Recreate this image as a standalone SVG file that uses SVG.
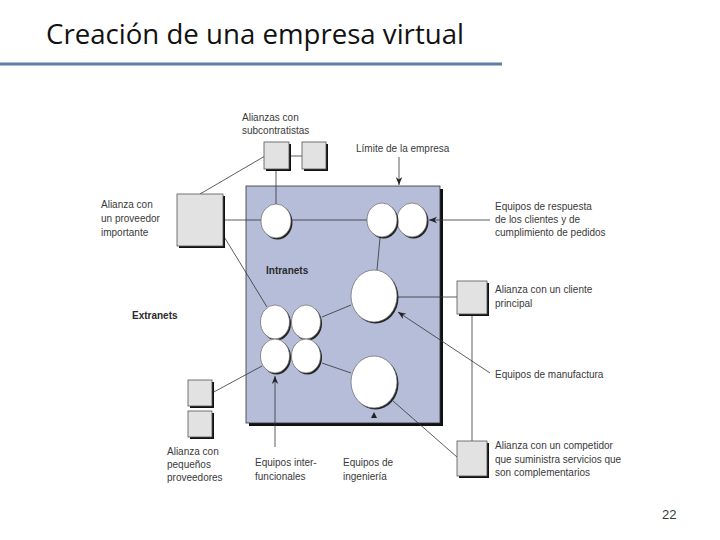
<svg xmlns="http://www.w3.org/2000/svg" width="720" height="540" viewBox="0 0 720 540">
<style>
.t{font-family:"Liberation Sans",Arial,sans-serif;font-size:10px;fill:#3a3a3a}
.b{font-weight:bold;fill:#2a2a2a}
.box{fill:#e2e2e2;stroke:#555;stroke-width:0.8}
.sh{fill:#111}
.c{fill:#fff;stroke:#666;stroke-width:0.7}
.cs{fill:#222}
.ln{stroke:#333;stroke-width:0.8;fill:none}
</style>
<defs>
<marker id="ah" viewBox="0 0 10 10" refX="10" refY="5" markerWidth="8" markerHeight="8" markerUnits="userSpaceOnUse" orient="auto">
<path d="M0,1 L10,5 L0,9 L3,5 Z" fill="#222"/>
</marker>
</defs>
<rect width="720" height="540" fill="#fff"/>
<g id="title">
<text x="46" y="44" font-family="'Open Sans','Noto Sans',sans-serif" font-size="27" fill="#111" textLength="418" lengthAdjust="spacingAndGlyphs">Creación de una empresa virtual</text>
<line x1="0" y1="64" x2="502" y2="64" stroke="#5b80a5" stroke-width="3"/>
</g>
<g id="empresa">
<rect x="249" y="189" width="194" height="237" class="sh"/>
<rect x="246" y="186" width="194" height="237" fill="#b5bdd9" stroke="#333" stroke-width="0.8"/>
<text x="266" y="274" class="t b">Intranets</text>
</g>
<g id="connectors">
<line x1="276" y1="169" x2="276" y2="204" class="ln" stroke-width="1.1"/>
<line x1="289" y1="156" x2="302" y2="156" class="ln" stroke="#777"/>
<line x1="265" y1="156" x2="200" y2="194" class="ln"/>
<line x1="223" y1="220" x2="367" y2="220" class="ln"/>
<line x1="223" y1="235" x2="267" y2="307" class="ln"/>
<line x1="380" y1="238" x2="377" y2="270" class="ln"/>
<line x1="397" y1="297" x2="457" y2="297" class="ln"/>
<line x1="322" y1="317" x2="351" y2="305" class="ln"/>
<line x1="322" y1="363" x2="351" y2="373" class="ln"/>
<line x1="212" y1="393" x2="262" y2="366" class="ln"/>
<line x1="472" y1="314" x2="472" y2="441" class="ln" stroke-width="1.1"/>
<line x1="393" y1="401" x2="457" y2="457" class="ln"/>
<line x1="490" y1="373" x2="398" y2="312" class="ln" marker-end="url(#ah)"/>
<line x1="490" y1="220" x2="429" y2="220" class="ln" marker-end="url(#ah)"/>
<line x1="399" y1="157" x2="399" y2="185" class="ln" stroke-width="1.1" marker-end="url(#ah)"/>
<line x1="275" y1="447" x2="275" y2="376" class="ln" stroke-width="1.1" marker-end="url(#ah)"/>
<path d="M371,418 L374,412 L377,418 Z" fill="#222"/>
</g>
<g id="subcontratistas">
<rect x="266" y="144" width="25" height="27" class="sh"/>
<rect x="264" y="142" width="25" height="27" class="box"/>
<rect x="304" y="144" width="24" height="27" class="sh"/>
<rect x="302" y="142" width="24" height="27" class="box"/>
<text x="242" y="121" class="t">Alianzas con</text>
<text x="242" y="134" class="t">subcontratistas</text>
</g>
<g id="proveedor">
<rect x="179" y="196" width="46" height="52" class="sh"/>
<rect x="177" y="194" width="46" height="52" class="box"/>
<text x="101" y="208" class="t">Alianza con</text>
<text x="101" y="222" class="t">un proveedor</text>
<text x="101" y="236" class="t">importante</text>
</g>
<g id="limite">
<text x="356" y="152" class="t">Límite de la empresa</text>
</g>
<g id="circulo1">
<ellipse cx="277.5" cy="222.5" rx="15" ry="17" class="cs"/>
<ellipse cx="276" cy="221" rx="15" ry="17" class="c"/>
</g>
<g id="respuesta">
<ellipse cx="413.5" cy="221.5" rx="15" ry="17" class="cs"/>
<ellipse cx="412" cy="220" rx="15" ry="17" class="c"/>
<ellipse cx="383.5" cy="221.5" rx="15" ry="17" class="cs"/>
<ellipse cx="382" cy="220" rx="15" ry="17" class="c"/>
<text x="495" y="210" class="t">Equipos de respuesta</text>
<text x="495" y="223" class="t">de los clientes y de</text>
<text x="495" y="236" class="t">cumplimiento de pedidos</text>
</g>
<g id="manufactura">
<ellipse cx="375.5" cy="297.5" rx="23" ry="26" class="cs"/>
<ellipse cx="374" cy="296" rx="23" ry="26" class="c"/>
<text x="495" y="378" class="t">Equipos de manufactura</text>
</g>
<g id="interfuncionales">
<ellipse cx="276.5" cy="323.5" rx="14.5" ry="17" class="cs"/>
<ellipse cx="275" cy="322" rx="14.5" ry="17" class="c"/>
<ellipse cx="307.5" cy="323.5" rx="14.5" ry="17" class="cs"/>
<ellipse cx="306" cy="322" rx="14.5" ry="17" class="c"/>
<ellipse cx="276.5" cy="357.5" rx="14.5" ry="17" class="cs"/>
<ellipse cx="275" cy="356" rx="14.5" ry="17" class="c"/>
<ellipse cx="307.5" cy="357.5" rx="14.5" ry="17" class="cs"/>
<ellipse cx="306" cy="356" rx="14.5" ry="17" class="c"/>
<text x="255" y="466" class="t">Equipos inter-</text>
<text x="255" y="480" class="t">funcionales</text>
</g>
<g id="ingenieria">
<ellipse cx="375.5" cy="383.5" rx="23" ry="26" class="cs"/>
<ellipse cx="374" cy="382" rx="23" ry="26" class="c"/>
<text x="343" y="466" class="t">Equipos de</text>
<text x="343" y="480" class="t">ingeniería</text>
</g>
<g id="cliente">
<rect x="459" y="283" width="30" height="33" class="sh"/>
<rect x="457" y="281" width="30" height="33" class="box"/>
<text x="495" y="293" class="t">Alianza con un cliente</text>
<text x="495" y="307" class="t">principal</text>
</g>
<g id="competidor">
<rect x="459" y="443" width="30" height="35" class="sh"/>
<rect x="457" y="441" width="30" height="35" class="box"/>
<text x="495" y="449" class="t">Alianza con un competidor</text>
<text x="495" y="463" class="t">que suministra servicios que</text>
<text x="495" y="476" class="t">son complementarios</text>
</g>
<g id="pequenos">
<rect x="190" y="382" width="24" height="26" class="sh"/>
<rect x="188" y="380" width="24" height="26" class="box"/>
<rect x="190" y="413" width="24" height="26" class="sh"/>
<rect x="188" y="411" width="24" height="26" class="box"/>
<text x="167" y="455" class="t">Alianza con</text>
<text x="167" y="468" class="t">pequeños</text>
<text x="167" y="481" class="t">proveedores</text>
</g>
<g id="extranets">
<text x="132" y="319" class="t b">Extranets</text>
</g>
<text x="662" y="519" font-family="'Liberation Sans',Arial,sans-serif" font-size="13" fill="#2f3f35">22</text>
</svg>
